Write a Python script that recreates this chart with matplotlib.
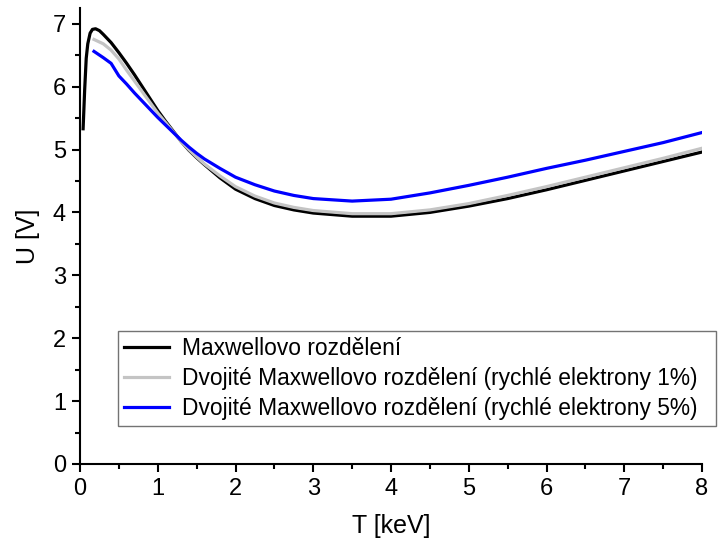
import numpy as np
import matplotlib
matplotlib.use("Agg")
import matplotlib.pyplot as plt
from matplotlib.ticker import MultipleLocator

plt.rcParams['font.family'] = ['Liberation Sans', 'DejaVu Sans']

# Data
t_maxwell = [0.04, 0.06, 0.08, 0.10, 0.13, 0.16, 0.20, 0.25, 0.30, 0.40, 0.50, 0.60, 0.70,
             0.80, 0.90, 1.0, 1.1, 1.2, 1.3, 1.4, 1.5, 1.6, 1.8, 2.0, 2.25, 2.5, 2.75, 3.0,
             3.5, 4.0, 4.5, 5.0, 5.5, 6.0, 6.5, 7.0, 7.5, 8.0]
u_maxwell = [5.33, 5.95, 6.45, 6.68, 6.85, 6.91, 6.92, 6.89, 6.83, 6.70, 6.54, 6.37, 6.19,
             6.00, 5.81, 5.62, 5.45, 5.29, 5.13, 4.99, 4.87, 4.76, 4.55, 4.37, 4.22, 4.11,
             4.04, 3.99, 3.94, 3.94, 4.00, 4.10, 4.22, 4.36, 4.51, 4.66, 4.81, 4.96]

t_double = [0.18, 0.30, 0.40, 0.50, 0.60, 0.70, 0.80, 0.90, 1.0, 1.1, 1.2, 1.3, 1.4, 1.5,
            1.6, 1.8, 2.0, 2.25, 2.5, 2.75, 3.0, 3.5, 4.0, 4.5, 5.0, 5.5, 6.0, 6.5, 7.0,
            7.5, 8.0]
u_double_1 = [6.75, 6.68, 6.58, 6.44, 6.26, 6.09, 5.92, 5.75, 5.58, 5.43, 5.28, 5.13, 5.00,
              4.88, 4.77, 4.58, 4.41, 4.26, 4.15, 4.08, 4.03, 3.98, 3.98, 4.04, 4.14, 4.27,
              4.41, 4.56, 4.71, 4.86, 5.02]
u_double_5 = [6.56, 6.46, 6.37, 6.17, 6.04, 5.90, 5.77, 5.64, 5.51, 5.39, 5.27, 5.15, 5.04,
              4.94, 4.85, 4.70, 4.56, 4.44, 4.34, 4.27, 4.22, 4.18, 4.21, 4.31, 4.43, 4.56,
              4.70, 4.83, 4.97, 5.11, 5.27]

labels = ["Maxwellovo rozdělení",
          "Dvojité Maxwellovo rozdělení (rychlé elektrony 1%)",
          "Dvojité Maxwellovo rozdělení (rychlé elektrony 5%)"]

fig = plt.figure(figsize=(7.18, 5.46), dpi=100)
ax = fig.add_axes([80/718, 1-464/546, 622/718, 456/546])

ax.plot(t_maxwell, u_maxwell, color="black", lw=2.3, label=labels[0])
ax.plot(t_double, u_double_1, color="#c4c4c4", lw=2.3, label=labels[1])
ax.plot(t_double, u_double_5, color="#0000ff", lw=2.3, label=labels[2])

ax.set_xlim(0, 8)
ax.set_ylim(0, 7.25)
ax.xaxis.set_major_locator(MultipleLocator(1))
ax.xaxis.set_minor_locator(MultipleLocator(0.5))
ax.yaxis.set_major_locator(MultipleLocator(1))
ax.yaxis.set_minor_locator(MultipleLocator(0.5))

for s in ["top", "right"]:
    ax.spines[s].set_visible(False)
for s in ["left", "bottom"]:
    ax.spines[s].set_linewidth(1.5)
ax.tick_params(which="major", direction="out", length=6, width=1.5, labelsize=17, pad=4)
ax.tick_params(which="minor", direction="out", length=3.5, width=1.5)

ax.set_xlabel("T [keV]", fontsize=18, labelpad=10)
ax.set_ylabel("U [V]", fontsize=18, labelpad=9)

leg = ax.legend(loc="upper left", bbox_to_anchor=(118/718, (546-428)/546, 598/718, 97/546),
                bbox_transform=fig.transFigure, mode="expand", fontsize=16.4,
                frameon=True, fancybox=False, borderpad=0.25, borderaxespad=0,
                handlelength=2.0, handletextpad=0.55, labelspacing=0.32)
leg.get_frame().set_edgecolor("#505050")
leg.get_frame().set_linewidth(1.0)
for line in leg.get_lines():
    line.set_linewidth(2.3)

fig.savefig("out.png", dpi=100)
